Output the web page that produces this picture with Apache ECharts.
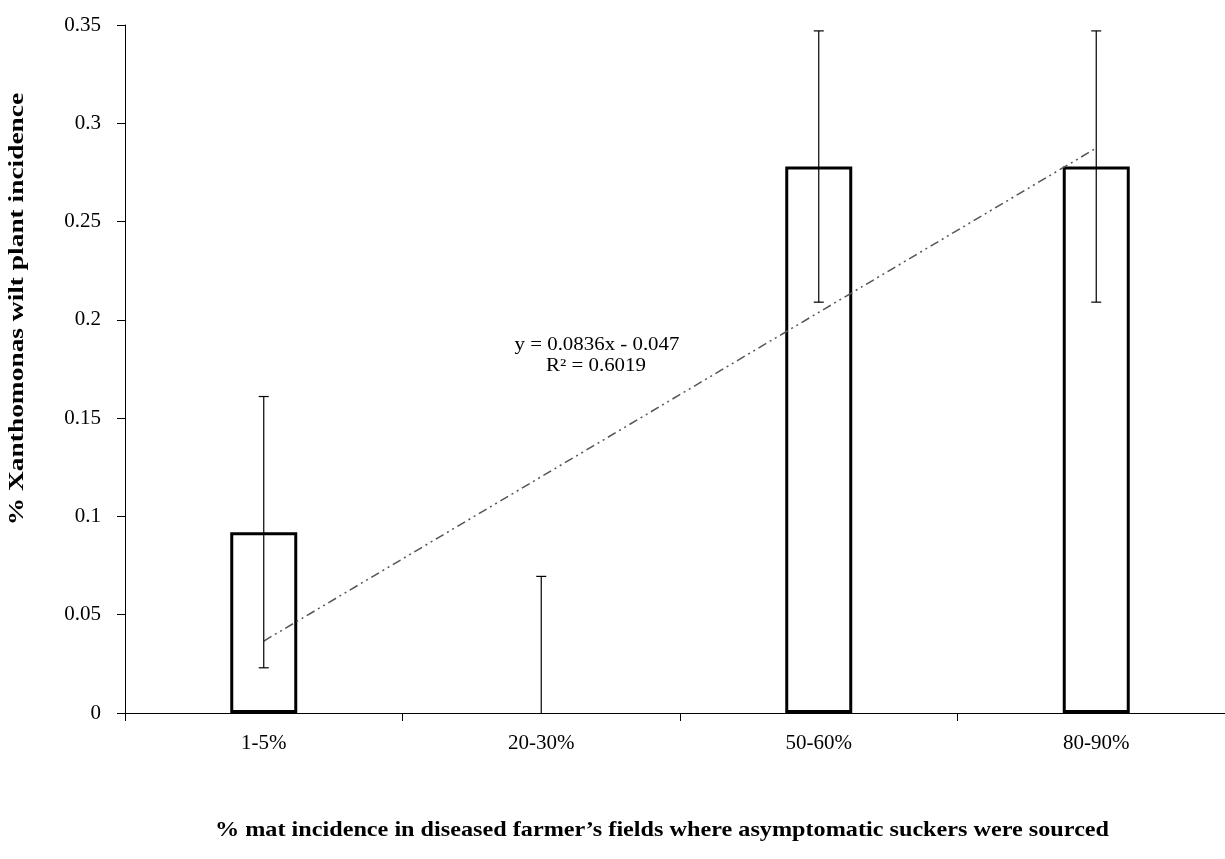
<!DOCTYPE html>
<html>
<head>
<meta charset="utf-8">
<script src="https://cdn.jsdelivr.net/npm/echarts@6/dist/echarts.min.js"></script>
<style>html,body{margin:0;padding:0;background:#fff;overflow:hidden;width:1225px;height:859px}#c{width:1236px;height:859px}</style>
</head>
<body>
<div id="c"></div>
<script>
const categories = ['1-5%', '20-30%', '50-60%', '80-90%'];
const means = [0.092, 0, 0.278, 0.278];
const errUp = [0.069, 0.0695, 0.069, 0.069];
const errDown = [0.069, 0, 0.069, 0.069];
const trendValues = [0.0366, null, null, 0.2874];
const yTicks = [0, 0.05, 0.1, 0.15, 0.2, 0.25, 0.3, 0.35];
const trendLabel = ['y = 0.0836x - 0.047', 'R² = 0.6019'];
const yTitle = '% Xanthomonas wilt plant incidence';
const xTitle = '% mat incidence in diseased farmer\u2019s fields where asymptomatic suckers were sourced';

const errData = categories.map((c, i) => [i, means[i] - errDown[i], means[i] + errUp[i]]);
const barData = means.map(v => v === 0 ? { value: v, itemStyle: { borderWidth: 0 } } : v);
const serif = '"Liberation Serif", "Times New Roman", serif';

const chart = echarts.init(document.getElementById('c'));
chart.setOption({
  backgroundColor: '#fff',
  animation: false,
  grid: { left: 125, top: 25, right: 1, bottom: 146, containLabel: false },
  xAxis: {
    type: 'category',
    data: categories,
    boundaryGap: true,
    axisLine: { lineStyle: { color: '#000', width: 1 } },
    axisTick: { show: true, length: 8, inside: false, lineStyle: { color: '#000' } },
    axisLabel: { color: '#000', fontFamily: serif, fontSize: 21, margin: 20 },
    splitLine: { show: false }
  },
  yAxis: {
    type: 'value',
    min: 0, max: 0.35, interval: 0.05,
    axisLine: { show: true, lineStyle: { color: '#000', width: 1 } },
    axisTick: { show: true, length: 8, lineStyle: { color: '#000' } },
    axisLabel: {
      color: '#000', fontFamily: serif, fontSize: 21, margin: 24,
      formatter: v => {
        const t = yTicks.find(x => Math.abs(x - v) < 1e-9);
        return t === undefined ? '' : String(+t.toFixed(2));
      }
    },
    splitLine: { show: false }
  },
  series: [
    {
      type: 'bar',
      data: barData,
      barWidth: 67,
      itemStyle: { color: '#fff', borderColor: '#000', borderWidth: 3 },
      z: 2
    },
    {
      type: 'custom',
      data: errData,
      z: 4,
      renderItem: (params, api) => {
        const x = api.value(0);
        const lo = api.coord([x, api.value(1)]);
        const hi = api.coord([x, api.value(2)]);
        const cap = 5;
        const st = { stroke: '#000', lineWidth: 1.2 };
        const children = [
          { type: 'line', shape: { x1: hi[0], y1: hi[1], x2: lo[0], y2: lo[1] }, style: st },
          { type: 'line', shape: { x1: hi[0] - cap, y1: hi[1], x2: hi[0] + cap, y2: hi[1] }, style: st }
        ];
        if (api.value(1) > 0) {
          children.push({ type: 'line', shape: { x1: lo[0] - cap, y1: lo[1], x2: lo[0] + cap, y2: lo[1] }, style: st });
        }
        return { type: 'group', children };
      }
    },
    {
      type: 'line',
      data: trendValues,
      connectNulls: true,
      symbol: 'none',
      lineStyle: { color: '#555', width: 1.5, type: [9, 4, 2, 4, 2, 4] },
      z: 3
    }
  ],
  graphic: [
    {
      type: 'text', x: 597, y: 345, scaleX: 1.16,
      style: { text: trendLabel[0], font: '18px ' + serif, fill: '#000', align: 'center', verticalAlign: 'middle' }
    },
    {
      type: 'text', x: 596, y: 366, scaleX: 1.16,
      style: { text: trendLabel[1], font: '18px ' + serif, fill: '#000', align: 'center', verticalAlign: 'middle' }
    },
    {
      type: 'text', x: 18, y: 309, rotation: Math.PI / 2, scaleX: 1.37,
      style: { text: yTitle, font: 'bold 20px ' + serif, fill: '#000', align: 'center', verticalAlign: 'middle' }
    },
    {
      type: 'text', x: 662, y: 830, scaleX: 1.1,
      style: { text: xTitle, font: 'bold 22px ' + serif, fill: '#000', align: 'center', verticalAlign: 'middle' }
    }
  ]
});
</script>
</body>
</html>
